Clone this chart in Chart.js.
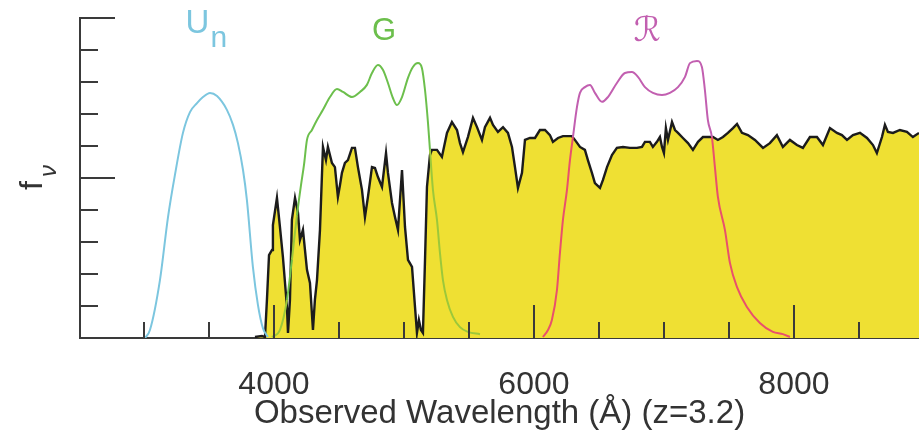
<!DOCTYPE html>
<html>
<head>
<meta charset="utf-8">
<script src="https://cdn.jsdelivr.net/npm/chart.js@4.4.1/dist/chart.umd.min.js"></script>
<style>
  html, body { margin: 0; padding: 0; background: #fff; }
</style>
</head>
<body>
<canvas id="specChart" width="919" height="445"></canvas>
<script>
// Spectre observé (z=3.2) : longueur d'onde (Å) et flux f_nu
const specWave = [
    3854, 3908, 3931, 3946, 3962, 3985, 3992, 4023, 4046, 4069,
    4100, 4108, 4123, 4138, 4162, 4185, 4200, 4223, 4254, 4277,
    4300, 4315, 4331, 4354, 4377, 4400, 4415, 4446, 4469, 4492,
    4508, 4523, 4546, 4569, 4600, 4623, 4646, 4677, 4700, 4723,
    4754, 4777, 4800, 4831, 4862, 4877, 4908, 4931, 4954, 4985,
    5008, 5031, 5062, 5085, 5100, 5115, 5131, 5146, 5162, 5177,
    5200, 5215, 5254, 5292, 5331, 5369, 5408, 5431, 5454, 5492,
    5531, 5562, 5600, 5623, 5662, 5685, 5723, 5762, 5800, 5831,
    5854, 5877, 5908, 5931, 5969, 6008, 6046, 6085, 6123, 6146,
    6185, 6223, 6292, 6315, 6354, 6392, 6415, 6446, 6469, 6508,
    6531, 6562, 6600, 6638, 6685, 6738, 6792, 6831, 6854, 6892,
    6915, 6946, 6969, 6985, 7000, 7015, 7031, 7062, 7085, 7108,
    7146, 7185, 7223, 7262, 7300, 7338, 7377, 7415, 7454, 7492,
    7531, 7562, 7600, 7646, 7700, 7762, 7815, 7869, 7915, 7969,
    8023, 8069, 8123, 8177, 8223, 8277, 8331, 8369, 8408, 8454,
    8508, 8562, 8608, 8638, 8677, 8700, 8723, 8762, 8815, 8869,
    8915, 8962
];
const specFlux = [
    0.03, 0.06, 0.03, 1.19, 2.59, 2.75, 3.53, 4.38, 3.47, 2.53,
    0.97, 0.16, 1.19, 3.69, 4.38, 3.91, 3.06, 3.38, 2.13, 1.72,
    0.25, 1.19, 1.81, 3.38, 5.97, 5.56, 5.97, 5.47, 5.34, 4.41,
    4.78, 5.16, 5.47, 5.56, 5.94, 5.94, 5.34, 4.63, 3.78, 4.41,
    5.34, 5.31, 5.03, 4.72, 5.78, 5.16, 4.22, 3.78, 3.38, 5.25,
    3.47, 2.44, 2.22, 0.97, 0.16, 0.56, 0.25, 0.16, 2.44, 4.72,
    5.72, 5.88, 5.88, 5.66, 6.41, 6.75, 6.5, 6.09, 5.81, 6.28,
    6.88, 6.59, 6.19, 6.59, 6.88, 6.66, 6.44, 6.59, 6.41, 5.97,
    5.34, 4.69, 5.16, 6.19, 6.25, 6.25, 6.5, 6.5, 6.34, 6.13,
    6.25, 6.31, 6.31, 6.19, 5.97, 5.88, 5.56, 5.16, 4.84, 4.69,
    4.94, 5.34, 5.72, 5.94, 5.97, 5.94, 5.94, 5.97, 6.13, 6.13,
    5.97, 6.13, 6.28, 5.97, 5.78, 6.56, 6.19, 6.75, 6.5, 6.41,
    6.25, 6.09, 5.88, 6.13, 6.28, 6.28, 6.28, 6.19, 6.28, 6.41,
    6.56, 6.69, 6.41, 6.34, 6.19, 5.94, 6.09, 6.34, 5.97, 6.19,
    6.03, 5.94, 6.28, 6.28, 6.03, 6.56, 6.41, 6.34, 6.19, 6.34,
    6.41, 6.25, 6.03, 5.78, 6.28, 6.66, 6.44, 6.41, 6.5, 6.44,
    6.28, 6.41
];

// Courbes de transmission des filtres Un, G et R
const unWave = [3008, 3046, 3123, 3185, 3238, 3300, 3354, 3408, 3454, 3508,
                3562, 3638, 3685, 3723, 3762, 3792, 3838, 3877, 3915, 3954];
const unTrans = [0, 0.25, 1.81, 3.78, 5.09, 6.41, 7.06, 7.34, 7.53, 7.66,
                 7.56, 7.13, 6.66, 6.09, 5.25, 4.31, 2.22, 1.03, 0.31, 0.03];

const gWave = [3985, 4046, 4100, 4138, 4177, 4208, 4231, 4254, 4292, 4331,
               4377, 4431, 4485, 4531, 4600, 4662, 4715, 4754, 4800, 4838,
               4877, 4915, 4946, 4985, 5031, 5069, 5108, 5138, 5162, 5185,
               5200, 5223, 5254, 5277, 5300, 5331, 5377, 5431, 5492, 5585];
const gTrans = [0.03, 0.25, 1.19, 2.44, 3.84, 4.78, 5.41, 6.19, 6.5, 6.81,
                7.13, 7.53, 7.78, 7.69, 7.53, 7.69, 7.91, 8.28, 8.53, 8.38,
                7.97, 7.5, 7.28, 7.53, 8.13, 8.47, 8.59, 8.44, 7.75, 6.72,
                5.88, 4.63, 3.69, 2.66, 1.81, 1.19, 0.66, 0.34, 0.19, 0.12];

const rWave = [6069, 6108, 6138, 6177, 6200, 6223, 6254, 6277, 6300, 6331,
               6354, 6392, 6431, 6469, 6523, 6569, 6638, 6700, 6754, 6800,
               6854, 6915, 6985, 7046, 7108, 7162, 7200, 7254, 7292, 7315,
               7338, 7369, 7392, 7415, 7469, 7508, 7562, 7638, 7738, 7838,
               7915, 7969];
const rTrans = [0.03, 0.25, 0.56, 1.5, 2.66, 3.69, 4.63, 5.56, 6.28, 7.22,
                7.66, 7.84, 7.91, 7.66, 7.38, 7.53, 7.97, 8.28, 8.31, 8.16,
                7.84, 7.66, 7.59, 7.66, 7.84, 8.16, 8.59, 8.66, 8.47, 7.75,
                6.81, 6.28, 5.34, 4.41, 3.38, 2.34, 1.59, 0.97, 0.47, 0.19,
                0.12, 0.03];

// Graduations
const xTickLabels = [4000, 6000, 8000];
const xTickMarks = [3000, 3500, 4000, 4500, 5000, 5500, 6000, 6500, 7000, 7500, 8000, 8500];
const yTickMarks = [1, 2, 3, 4, 5, 6, 7, 8, 9, 10];
const yMajorMarks = [5, 10];

const colors = {
    fill: '#efe033',
    spec: '#1c1c1c',
    un: '#7cc6df',
    gOut: '#6cbf4c',
    gIn: '#9cc83a',
    rOut: '#c25fb0',
    rIn: '#e9506c',
    axis: '#3a3a3a',
    text: '#333333'
};

const toPoints = (xs, ys) => xs.map((v, i) => ({x: v, y: ys[i]}));

// Flux du spectre interpolé à une longueur d'onde donnée
function fluxAt(w) {
    if (w <= specWave[0] || w >= specWave[specWave.length - 1]) return 0;
    for (let i = 1; i < specWave.length; i++) {
        if (w <= specWave[i]) {
            const t = (w - specWave[i - 1]) / (specWave[i] - specWave[i - 1]);
            return specFlux[i - 1] + t * (specFlux[i] - specFlux[i - 1]);
        }
    }
    return 0;
}

// Couleur du filtre : différente quand la courbe passe sous le spectre
function splitColor(above, below) {
    return ctx => {
        const w = (ctx.p0.parsed.x + ctx.p1.parsed.x) / 2;
        const v = (ctx.p0.parsed.y + ctx.p1.parsed.y) / 2;
        return v < fluxAt(w) ? below : above;
    };
}

// Graduations tournées vers l'intérieur + étiquettes des filtres
const innerDecor = {
    id: 'innerDecor',
    afterDraw(chart) {
        const {ctx, chartArea, scales: {x, y}} = chart;
        ctx.save();
        ctx.strokeStyle = colors.axis;
        ctx.lineWidth = 2;
        xTickMarks.forEach(v => {
            const px = Math.round(x.getPixelForValue(v));
            const len = xTickLabels.includes(v) ? 33 : 16;
            ctx.beginPath();
            ctx.moveTo(px, chartArea.bottom);
            ctx.lineTo(px, chartArea.bottom - len);
            ctx.stroke();
        });
        yTickMarks.forEach(v => {
            const py = Math.round(y.getPixelForValue(v));
            const len = yMajorMarks.includes(v) ? 35 : 18;
            ctx.beginPath();
            ctx.moveTo(chartArea.left, py);
            ctx.lineTo(chartArea.left + len, py);
            ctx.stroke();
        });

        // Titre de l'axe y : f avec indice nu
        ctx.fillStyle = colors.text;
        ctx.translate(chartArea.left - 38, (chartArea.top + chartArea.bottom) / 2 + 12);
        ctx.rotate(-Math.PI / 2);
        ctx.font = '32px "Liberation Sans"';
        ctx.fillText('f', 0, 0);
        ctx.font = 'italic 24px "Liberation Sans"';
        ctx.fillText('\u03bd', 13, 14);
        ctx.restore();

        ctx.save();
        ctx.textBaseline = 'alphabetic';
        // Un
        ctx.fillStyle = colors.un;
        ctx.font = '33px "Liberation Sans"';
        let px = x.getPixelForValue(3320);
        let py = y.getPixelForValue(9.53);
        ctx.fillText('U', px, py);
        const uw = ctx.measureText('U').width;
        ctx.font = '30px "Liberation Sans"';
        ctx.fillText('n', px + uw + 1, py + 14);
        // G
        ctx.textAlign = 'center';
        ctx.fillStyle = colors.gOut;
        ctx.font = '31px "Liberation Sans"';
        ctx.fillText('G', x.getPixelForValue(4846), y.getPixelForValue(9.31));
        // R
        ctx.fillStyle = colors.rOut;
        ctx.font = '34px "DejaVu Sans"';
        ctx.fillText('\u211b', x.getPixelForValue(6870), y.getPixelForValue(9.28));
        ctx.restore();
    }
};

const ctx = document.getElementById('specChart');
new Chart(ctx, {
    type: 'line',
    data: {
        datasets: [
            {
                label: 'Un',
                data: toPoints(unWave, unTrans),
                borderColor: colors.un,
                borderWidth: 2,
                cubicInterpolationMode: 'monotone',
                pointRadius: 0,
                fill: false,
                order: 1
            },
            {
                label: 'G',
                data: toPoints(gWave, gTrans),
                borderColor: colors.gOut,
                segment: { borderColor: splitColor(colors.gOut, colors.gIn) },
                borderWidth: 2,
                cubicInterpolationMode: 'monotone',
                pointRadius: 0,
                fill: false,
                order: 1
            },
            {
                label: 'R',
                data: toPoints(rWave, rTrans),
                borderColor: colors.rOut,
                segment: { borderColor: splitColor(colors.rOut, colors.rIn) },
                borderWidth: 2,
                cubicInterpolationMode: 'monotone',
                pointRadius: 0,
                fill: false,
                order: 1
            },
            {
                label: 'Spectre',
                data: toPoints(specWave, specFlux),
                borderColor: colors.spec,
                backgroundColor: colors.fill,
                borderWidth: 2.4,
                tension: 0,
                pointRadius: 0,
                fill: 'origin',
                order: 2
            }
        ]
    },
    options: {
        responsive: false,
        animation: false,
        layout: {
            padding: { top: 18, right: 0, left: 0, bottom: 0 }
        },
        plugins: {
            legend: { display: false },
            tooltip: { enabled: false }
        },
        scales: {
            x: {
                type: 'linear',
                min: 2508,
                max: 8962,
                afterBuildTicks: scale => {
                    scale.ticks = xTickLabels.map(v => ({value: v}));
                },
                afterFit: scale => { scale.height = 107; },
                grid: { display: false, drawTicks: false },
                border: { display: true, color: colors.axis, width: 2 },
                ticks: {
                    padding: 28,
                    color: colors.text,
                    maxRotation: 0,
                    font: { family: 'Liberation Sans', size: 32 },
                    callback: v => String(v)
                },
                title: {
                    display: true,
                    text: 'Observed Wavelength (\u00c5) (z=3.2)',
                    color: colors.text,
                    font: { family: 'Liberation Sans', size: 33 },
                    padding: { top: 0, bottom: 11 }
                }
            },
            y: {
                type: 'linear',
                min: 0,
                max: 10,
                afterFit: scale => { scale.width = 80; },
                grid: { display: false, drawTicks: false },
                border: { display: true, color: colors.axis, width: 2 },
                ticks: { display: false }
            }
        }
    },
    plugins: [innerDecor]
});
</script>
</body>
</html>
